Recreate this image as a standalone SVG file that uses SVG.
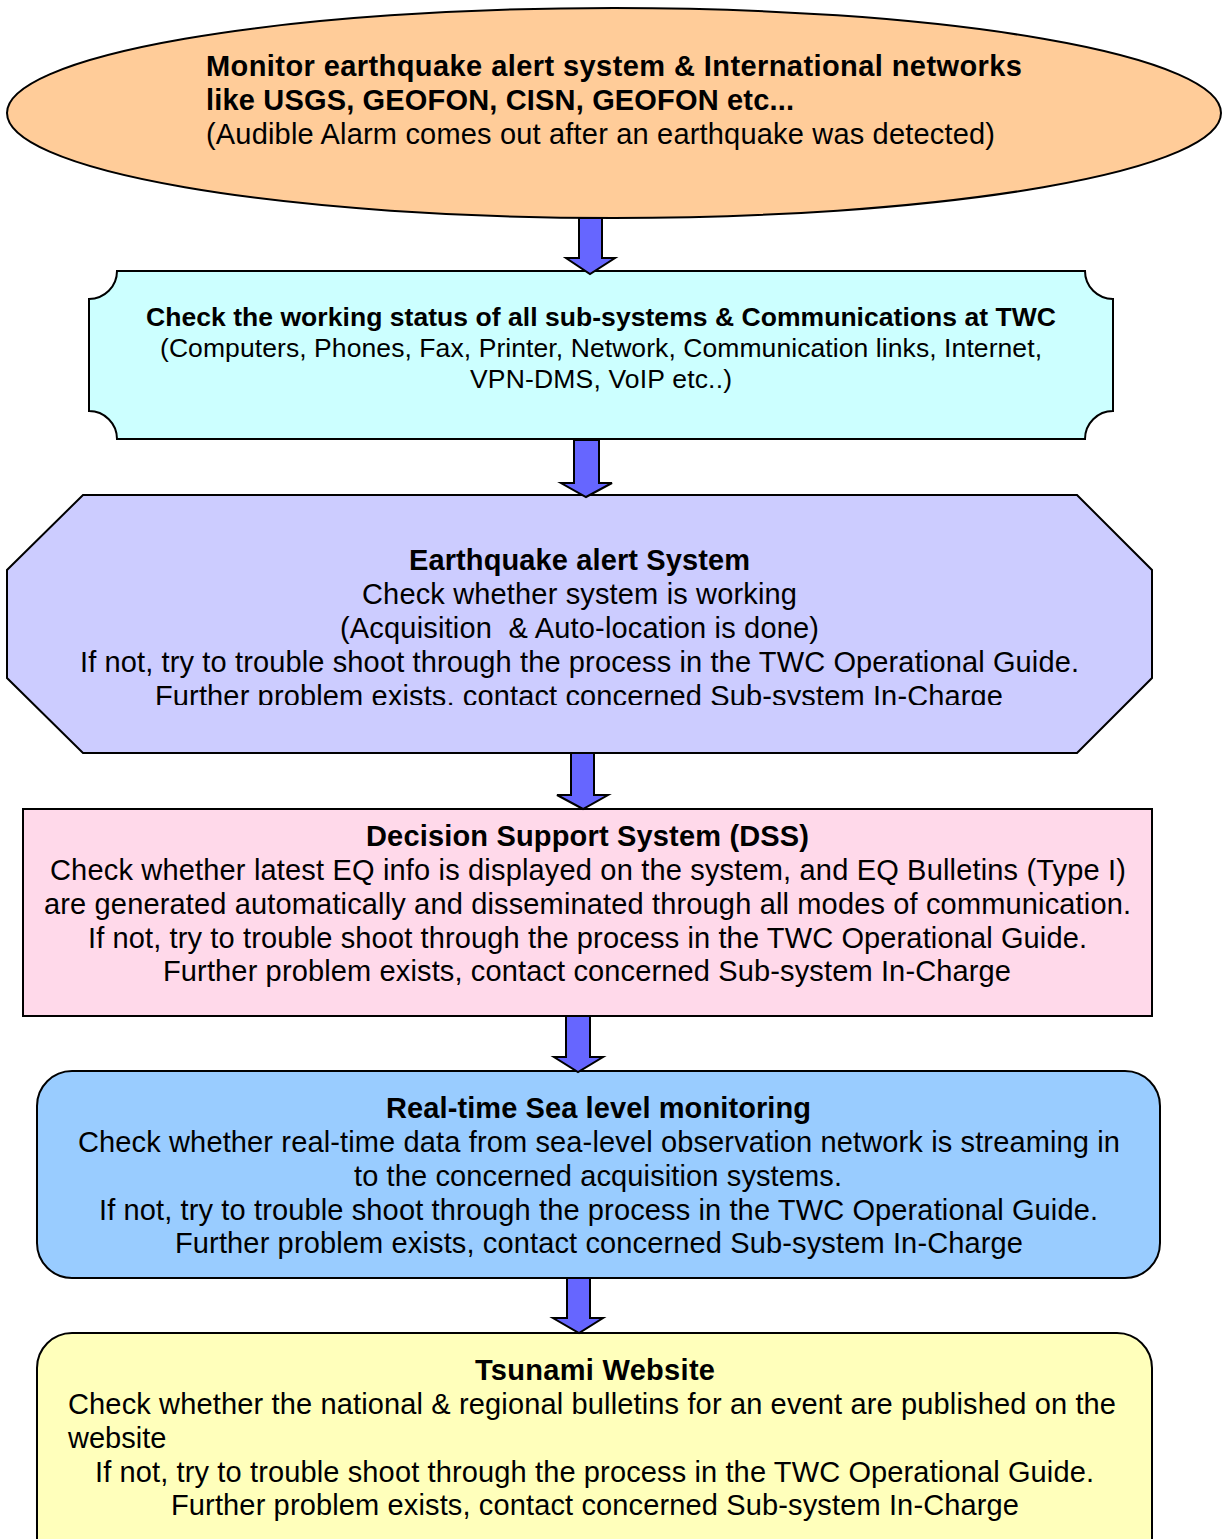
<svg xmlns="http://www.w3.org/2000/svg" width="1225" height="1539" viewBox="0 0 1225 1539">
<style>
.n{stroke:#000;stroke-width:2}
.t{font-family:"Liberation Sans",Arial,sans-serif;fill:#000}
.b{font-weight:bold}
.c{text-anchor:middle}
.s27{font-size:29px}
.s25{font-size:26.5px}
.arr{fill:#6666FF;stroke:#000;stroke-width:2;stroke-linejoin:miter}
</style>
<defs>
<clipPath id="octClip"><rect x="0" y="495" width="1225" height="210"/></clipPath>
</defs>
<rect width="1225" height="1539" fill="#fff"/>
<g id="node-monitor">
<ellipse class="n" cx="614" cy="113" rx="607" ry="105" fill="#FFCC99"/>
<text class="t b s27" x="206" y="76" textLength="816" lengthAdjust="spacing">Monitor earthquake alert system &amp; International networks</text>
<text class="t b s27" x="206" y="110" textLength="588" lengthAdjust="spacing">like USGS, GEOFON, CISN, GEOFON etc...</text>
<text class="t s27" x="206" y="144" textLength="789" lengthAdjust="spacing">(Audible Alarm comes out after an earthquake was detected)</text>
</g>
<g id="node-check-status">
<path class="n" fill="#CCFFFF" d="M117,271 H1085 A28,28 0 0 0 1113,299 V411 A28,28 0 0 0 1085,439 H117 A28,28 0 0 0 89,411 V299 A28,28 0 0 0 117,271 Z"/>
<text class="t b c s25" x="601" y="326" textLength="910" lengthAdjust="spacing">Check the working status of all sub-systems &amp; Communications at TWC</text>
<text class="t c s25" x="601" y="357" textLength="882" lengthAdjust="spacing">(Computers, Phones, Fax, Printer, Network, Communication links, Internet,</text>
<text class="t c s25" x="601" y="388" textLength="262" lengthAdjust="spacing">VPN-DMS, VoIP etc..)</text>
</g>
<g id="node-eq-alert">
<polygon class="n" fill="#CCCCFF" points="83,495 1077,495 1152,570 1152,678 1077,753 83,753 7,678 7,570"/>
<g clip-path="url(#octClip)">
<text class="t b c s27" x="579.5" y="570" textLength="341" lengthAdjust="spacing">Earthquake alert System</text>
<text class="t c s27" x="579.5" y="604" textLength="435" lengthAdjust="spacing">Check whether system is working</text>
<text class="t c s27" x="579.5" y="638" textLength="479" lengthAdjust="spacing" xml:space="preserve">(Acquisition  &amp; Auto-location is done)</text>
<text class="t c s27" x="579.5" y="672" textLength="999" lengthAdjust="spacing">If not, try to trouble shoot through the process in the TWC Operational Guide.</text>
<text class="t c s27" x="579" y="706" textLength="848" lengthAdjust="spacing">Further problem exists, contact concerned Sub-system In-Charge</text>
</g>
</g>
<g id="node-dss">
<rect class="n" x="23" y="809" width="1129" height="207" fill="#FFD9EA"/>
<text class="t b c s27" x="587.5" y="846" textLength="443" lengthAdjust="spacing">Decision Support System (DSS)</text>
<text class="t c s27" x="588" y="880" textLength="1076" lengthAdjust="spacing">Check whether latest EQ info is displayed on the system, and EQ Bulletins (Type I)</text>
<text class="t c s27" x="587.5" y="914" textLength="1087" lengthAdjust="spacing">are generated automatically and disseminated through all modes of communication.</text>
<text class="t c s27" x="587.5" y="948" textLength="999" lengthAdjust="spacing">If not, try to trouble shoot through the process in the TWC Operational Guide.</text>
<text class="t c s27" x="587" y="981" textLength="848" lengthAdjust="spacing">Further problem exists, contact concerned Sub-system In-Charge</text>
</g>
<g id="node-sea-level">
<rect class="n" x="37" y="1071" width="1123" height="207" rx="35" ry="35" fill="#99CCFF"/>
<text class="t b c s27" x="598.5" y="1118" textLength="425" lengthAdjust="spacing">Real-time Sea level monitoring</text>
<text class="t c s27" x="599" y="1152" textLength="1042" lengthAdjust="spacing">Check whether real-time data from sea-level observation network is streaming in</text>
<text class="t c s27" x="598" y="1186" textLength="488" lengthAdjust="spacing">to the concerned acquisition systems.</text>
<text class="t c s27" x="598.5" y="1220" textLength="999" lengthAdjust="spacing">If not, try to trouble shoot through the process in the TWC Operational Guide.</text>
<text class="t c s27" x="599" y="1253" textLength="848" lengthAdjust="spacing">Further problem exists, contact concerned Sub-system In-Charge</text>
</g>
<g id="node-website">
<rect class="n" x="37" y="1333" width="1115" height="240" rx="35" ry="35" fill="#FFFFBB"/>
<text class="t b c s27" x="595" y="1380" textLength="240" lengthAdjust="spacing">Tsunami Website</text>
<text class="t s27" x="68" y="1414" textLength="1048" lengthAdjust="spacing">Check whether the national &amp; regional bulletins for an event are published on the</text>
<text class="t s27" x="68" y="1448">website</text>
<text class="t c s27" x="594.5" y="1482" textLength="999" lengthAdjust="spacing">If not, try to trouble shoot through the process in the TWC Operational Guide.</text>
<text class="t c s27" x="595" y="1515" textLength="848" lengthAdjust="spacing">Further problem exists, contact concerned Sub-system In-Charge</text>
</g>
<g id="connectors">
<polygon class="arr" points="579,218 602,218 602,258 615,258 590,274 566,258 579,258"/>
<polygon class="arr" points="574,440 599,440 599,483 612,483 586,497 561,483 574,483"/>
<polygon class="arr" points="571,753 594,753 594,795 608,795 583,809 557,795 571,795"/>
<polygon class="arr" points="566,1016 590,1016 590,1057 603,1057 578,1072 554,1057 566,1057"/>
<polygon class="arr" points="567,1278 590,1278 590,1318 603,1318 579,1333 553,1318 567,1318"/>
</g>
</svg>
